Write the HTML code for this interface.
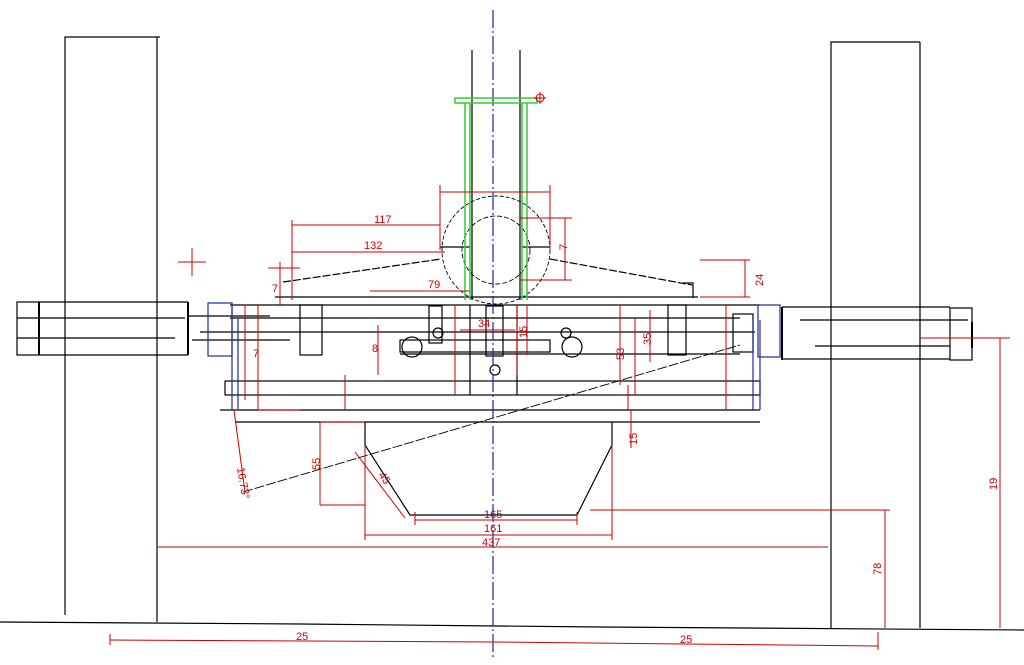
<!DOCTYPE html>
<html><head><style>html,body{margin:0;padding:0;background:#fff;width:1024px;height:665px;overflow:hidden}
svg text{font-family:"Liberation Sans",sans-serif;font-size:11px;fill:#c00}</style></head><body>
<svg width="1024" height="665" viewBox="0 0 1024 665" xmlns="http://www.w3.org/2000/svg">
<g stroke="#000" stroke-width="1.2" fill="none">
<!-- tall rects -->
<polyline points="65,615 65,37 160,37"/><line x1="157" y1="37" x2="157" y2="622"/>
<polyline points="831,628 831,42 920,42"/><line x1="920" y1="42" x2="920" y2="628"/>
<!-- ground -->
<polyline points="0,622 300,624 600,627 1024,630"/>
<!-- shaft -->
<line x1="472" y1="50" x2="472" y2="300"/><line x1="520" y1="50" x2="520" y2="300"/>
<!-- circles -->
<circle cx="496" cy="250" r="54" stroke-dasharray="4,2" stroke-width="0.9"/>
<circle cx="496" cy="250" r="34" stroke-dasharray="5,2" stroke-width="0.9"/>
<line x1="440" y1="247" x2="470" y2="247"/><line x1="522" y1="247" x2="550" y2="247"/>
<!-- sloped arms -->
<line x1="283" y1="282" x2="441" y2="259" stroke-dasharray="8,2"/>
<line x1="550" y1="259" x2="692" y2="285" stroke-dasharray="8,2"/>
<polyline points="683,283 693,283 693,298"/>
<!-- frame horizontal -->
<line x1="275" y1="297" x2="698" y2="297"/>
<line x1="230" y1="305" x2="760" y2="305"/>
<line x1="230" y1="318" x2="740" y2="318"/>
<line x1="200" y1="332" x2="755" y2="332"/>
<line x1="400" y1="354" x2="740" y2="354"/>
<rect x="225" y="381" width="535" height="14"/>
<line x1="220" y1="410" x2="760" y2="410"/>
<line x1="235" y1="422" x2="760" y2="422"/>
<!-- small blocks -->
<rect x="300" y="305" width="22" height="50"/>
<rect x="429" y="306" width="13" height="37"/>
<rect x="486" y="306" width="17" height="50"/>
<rect x="668" y="305" width="18" height="50"/>
<rect x="400" y="340" width="150" height="12"/>
<circle cx="412" cy="347" r="10"/><circle cx="572" cy="347" r="10"/>
<circle cx="438" cy="333" r="5"/><circle cx="566" cy="333" r="5"/>
<circle cx="495" cy="370" r="5"/>
<line x1="470" y1="305" x2="470" y2="395"/><line x1="517" y1="305" x2="517" y2="395"/>
<!-- left axle -->
<rect x="17" y="302" width="22" height="53"/>
<line x1="17" y1="318" x2="39" y2="318"/><line x1="17" y1="338" x2="39" y2="338"/>
<line x1="39" y1="302" x2="39" y2="355" stroke-width="2"/>
<line x1="39" y1="302" x2="188" y2="302"/><line x1="39" y1="355" x2="188" y2="355"/>
<line x1="39" y1="318" x2="185" y2="318"/><line x1="39" y1="338" x2="175" y2="338"/>
<line x1="188" y1="302" x2="188" y2="355" stroke-width="2"/>
<line x1="188" y1="316" x2="270" y2="316"/><line x1="192" y1="340" x2="290" y2="340"/>
<!-- right axle -->
<rect x="733" y="314" width="20" height="38"/>
<line x1="782" y1="307" x2="782" y2="360" stroke-width="2"/>
<line x1="782" y1="307" x2="950" y2="307"/><line x1="782" y1="359" x2="950" y2="359"/>
<line x1="800" y1="320" x2="968" y2="320"/><line x1="815" y1="346" x2="950" y2="346"/>
<rect x="950" y="308" width="22" height="52"/>
<line x1="972" y1="322" x2="972" y2="348" stroke-width="2"/>
<!-- bottom trapezoid -->
<polyline points="365,422 365,445 410,515 577,515 612,445 612,422"/>
<line x1="243" y1="492" x2="740" y2="345" stroke-dasharray="10,2" stroke-width="0.9"/>
</g>
<!-- blue -->
<g stroke="#1a2a9a" fill="none" stroke-width="1.2">
<line x1="493" y1="10" x2="493" y2="660" stroke-dasharray="18,3,2,3"/>
<rect x="208" y="303" width="24" height="53"/>
<line x1="232" y1="303" x2="232" y2="410"/><line x1="238" y1="318" x2="238" y2="410"/>
<rect x="758" y="305" width="22" height="52"/>
<line x1="753" y1="320" x2="753" y2="410"/><line x1="760" y1="320" x2="760" y2="410"/>
</g>
<!-- green -->
<g stroke="#3c3" fill="none" stroke-width="1.5">
<rect x="455" y="98" width="82" height="5"/>
<line x1="465" y1="103" x2="465" y2="300"/><line x1="470" y1="103" x2="470" y2="300"/>
<line x1="522" y1="103" x2="522" y2="300"/><line x1="527" y1="103" x2="527" y2="300"/>
</g>
<!-- red dims -->
<g stroke="#c00" fill="none" stroke-width="1">
<circle cx="540" cy="98" r="4"/><line x1="534" y1="98" x2="546" y2="98"/><line x1="540" y1="92" x2="540" y2="104"/>
<line x1="178" y1="262" x2="206" y2="262"/><line x1="192" y1="248" x2="192" y2="276"/>
<line x1="440" y1="192" x2="550" y2="192"/><line x1="440" y1="185" x2="440" y2="250"/><line x1="550" y1="185" x2="550" y2="250"/>
<line x1="292" y1="225" x2="440" y2="225"/><line x1="292" y1="252" x2="445" y2="252"/><line x1="292" y1="220" x2="292" y2="300"/>
<line x1="370" y1="291" x2="470" y2="291"/>
<line x1="520" y1="218" x2="572" y2="218"/><line x1="520" y1="280" x2="572" y2="280"/><line x1="565" y1="218" x2="565" y2="280"/>
<line x1="700" y1="260" x2="750" y2="260"/><line x1="700" y1="297" x2="750" y2="297"/><line x1="745" y1="260" x2="745" y2="297"/>
<line x1="245" y1="305" x2="245" y2="400"/><line x1="258" y1="305" x2="258" y2="410"/><line x1="258" y1="410" x2="300" y2="410"/>
<line x1="268" y1="268" x2="300" y2="268"/><line x1="280" y1="262" x2="280" y2="305"/>
<line x1="378" y1="325" x2="378" y2="375"/><line x1="345" y1="375" x2="345" y2="410"/>
<line x1="455" y1="305" x2="455" y2="395"/><line x1="460" y1="330" x2="515" y2="330"/>
<line x1="517" y1="305" x2="517" y2="375"/><line x1="527" y1="305" x2="527" y2="355"/>
<line x1="620" y1="305" x2="620" y2="385"/><line x1="635" y1="317" x2="635" y2="395"/><line x1="650" y1="310" x2="650" y2="362"/>
<line x1="628" y1="385" x2="628" y2="410"/><line x1="631" y1="410" x2="631" y2="448"/>
<line x1="726" y1="305" x2="726" y2="410"/>
<line x1="234" y1="410" x2="245" y2="492"/>
<line x1="320" y1="422" x2="320" y2="505"/><line x1="320" y1="422" x2="365" y2="422"/><line x1="320" y1="505" x2="365" y2="505"/>
<line x1="355" y1="452" x2="405" y2="518"/>
<line x1="415" y1="520" x2="577" y2="520"/><line x1="415" y1="512" x2="415" y2="525"/><line x1="577" y1="512" x2="577" y2="525"/>
<line x1="365" y1="535" x2="612" y2="535"/><line x1="365" y1="445" x2="365" y2="540"/><line x1="612" y1="445" x2="612" y2="540"/>
<line x1="157" y1="547" x2="828" y2="547"/>
<line x1="590" y1="510" x2="890" y2="510"/><line x1="885" y1="510" x2="885" y2="628"/>
<line x1="920" y1="338" x2="1010" y2="338"/><line x1="1000" y1="338" x2="1000" y2="628"/>
<line x1="110" y1="640" x2="493" y2="642"/><line x1="110" y1="634" x2="110" y2="645"/>
<line x1="493" y1="642" x2="878" y2="646"/><line x1="878" y1="632" x2="878" y2="650"/>
</g>
<g fill="#c00">
<text x="374" y="223">117</text><text x="364" y="249">132</text><text x="428" y="288">79</text>
<text x="484" y="518">165</text><text x="484" y="532">161</text><text x="482" y="546">437</text>
<text x="296" y="640">25</text><text x="680" y="643">25</text>
<text x="478" y="327">34</text>
<text transform="translate(881,575) rotate(-90)">78</text>
<text transform="translate(997,490) rotate(-90)">19</text>
<text transform="translate(320,470) rotate(-90)">55</text>
<text transform="translate(763,286) rotate(-90)">24</text>
<text transform="translate(651,345) rotate(-90)">35</text>
<text transform="translate(624,360) rotate(-90)">53</text>
<text transform="translate(637,445) rotate(-90)">15</text>
<text transform="translate(527,338) rotate(-90)">15</text>
<text transform="translate(237,468) rotate(80)">16.73°</text>
<text transform="translate(378,475) rotate(55)">45</text>
<text transform="translate(567,250) rotate(-90)">7</text>
<text x="253" y="357">7</text><text x="372" y="352">8</text><text x="272" y="292">7</text>
</g>
</svg>
</body></html>
